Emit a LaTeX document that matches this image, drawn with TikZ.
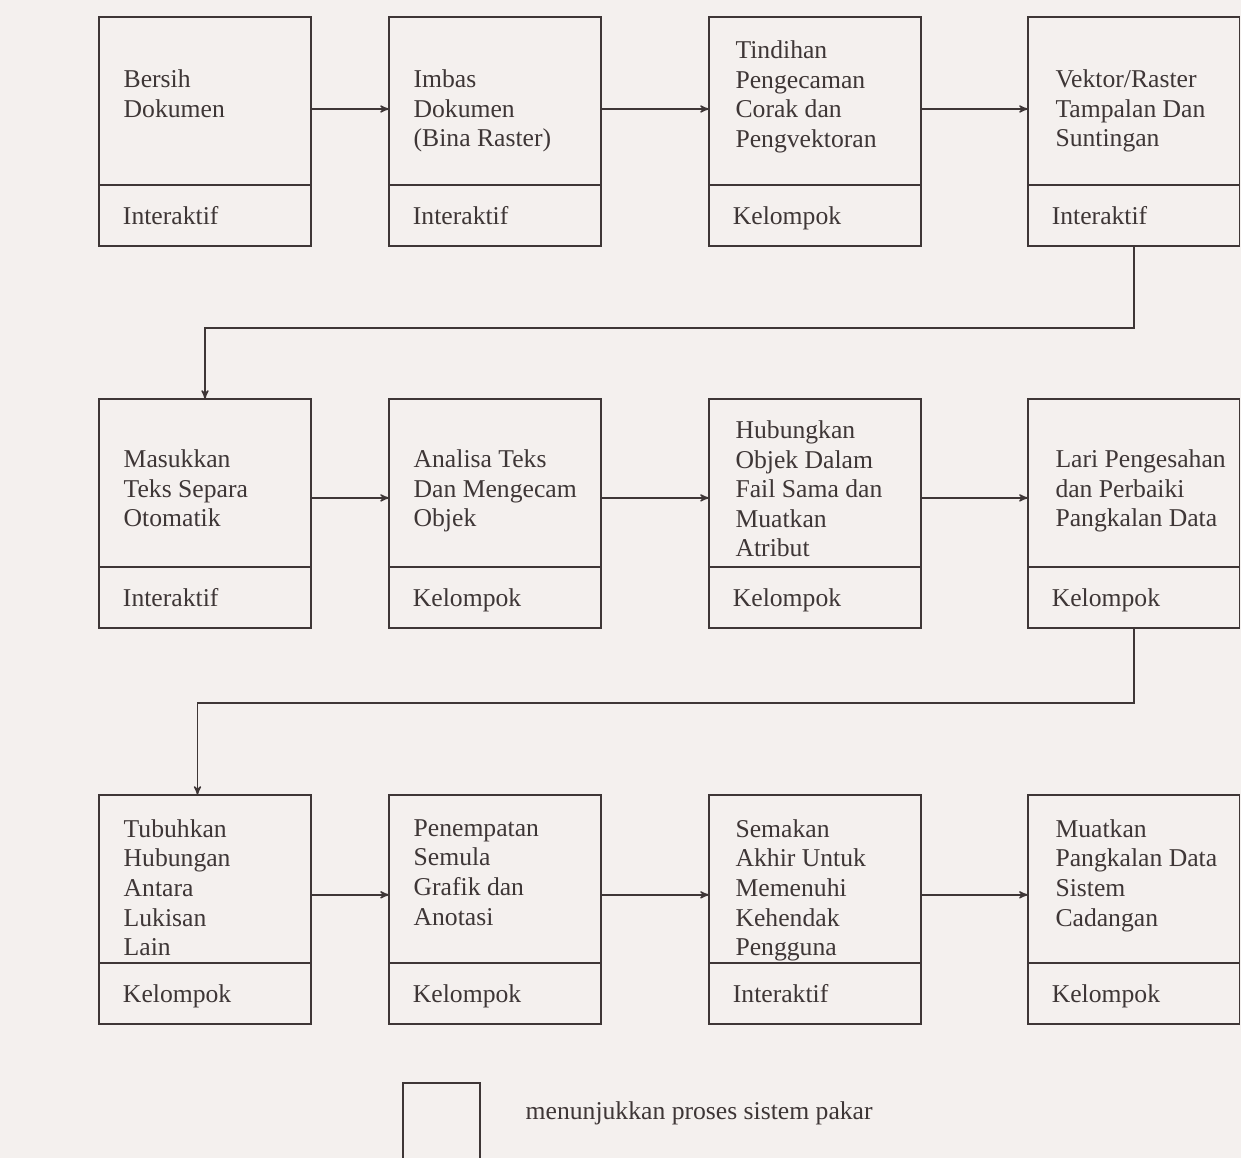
\documentclass[tikz,border=0pt]{standalone}
\usepackage{fontspec}
\setmainfont{Liberation Serif}
\usetikzlibrary{arrows}
\usetikzlibrary{positioning}
\usetikzlibrary{calc}

\definecolor{ink}{HTML}{3E3636}
\definecolor{paper}{HTML}{F4F0EE}

\begin{document}
\begin{tikzpicture}[->,>=stealth',thick,x=0.02cm,y=-0.02cm,ink,
    every node/.style={font=\fontsize{14.6}{16.85}\selectfont,text=ink},
    proc box/.style={draw,rectangle,outer sep=0pt,minimum width=4.24cm,minimum height=3.36cm},
    mode box/.style={draw,rectangle,outer sep=0pt,minimum width=4.24cm,minimum height=1.22cm,
        inner xsep=0.48cm,text width=3.28cm,align=left,text height=10.5pt,text depth=0pt},
    proc text/.style={anchor=north west,align=left,inner sep=0pt}
    ]

    \fill[paper,-] (0,0) rectangle (1241,1158);
    \clip (0,0) rectangle (1241,1158);

    % baris 1
    \node[proc box,anchor=north west](1) at (99,17){};
    \node[mode box](1k)[below=0pt of 1]{Interaktif};
    \node[proc box](2)[right=1.56cm of 1]{};
    \node[mode box](2k)[below=0pt of 2]{Interaktif};
    \node[proc box](3)[right=2.16cm of 2]{};
    \node[mode box](3k)[below=0pt of 3]{Kelompok};
    \node[proc box](4)[right=2.14cm of 3]{};
    \node[mode box](4k)[below=0pt of 4]{Interaktif};

    % baris 2
    \node[proc box](5)[below=3.06cm of 1k]{};
    \node[mode box](5k)[below=0pt of 5]{Interaktif};
    \node[proc box](6)[right=1.56cm of 5]{};
    \node[mode box](6k)[below=0pt of 6]{Kelompok};
    \node[proc box](7)[right=2.16cm of 6]{};
    \node[mode box](7k)[below=0pt of 7]{Kelompok};
    \node[proc box](8)[right=2.14cm of 7]{};
    \node[mode box](8k)[below=0pt of 8]{Kelompok};

    % baris 3
    \node[proc box](9)[below=3.34cm of 5k]{};
    \node[mode box](9k)[below=0pt of 9]{Kelompok};
    \node[proc box](10)[right=1.56cm of 9]{};
    \node[mode box](10k)[below=0pt of 10]{Kelompok};
    \node[proc box](11)[right=2.16cm of 10]{};
    \node[mode box](11k)[below=0pt of 11]{Interaktif};
    \node[proc box](12)[right=2.14cm of 11]{};
    \node[mode box](12k)[below=0pt of 12]{Kelompok};

    % teks dalam kotak
    \node[proc text](t1) at ($(1.north west)+(24,52)$){Bersih\\Dokumen};
    \node[proc text](t2) at ($(2.north west)+(24,52)$){Imbas\\Dokumen\\(Bina Raster)};
    \node[proc text](t3) at ($(3.north west)+(26,23)$){Tindihan\\Pengecaman\\Corak dan\\Pengvektoran};
    \node[proc text](t4) at ($(4.north west)+(27,52)$){Vektor/Raster\\Tampalan Dan\\Suntingan};
    \node[proc text](t5) at ($(5.north west)+(24,50)$){Masukkan\\Teks Separa\\Otomatik};
    \node[proc text](t6) at ($(6.north west)+(24,50)$){Analisa Teks\\Dan Mengecam\\Objek};
    \node[proc text](t7) at ($(7.north west)+(26,21)$){Hubungkan\\Objek Dalam\\Fail Sama dan\\Muatkan\\Atribut};
    \node[proc text](t8) at ($(8.north west)+(27,50)$){Lari Pengesahan\\dan Perbaiki\\Pangkalan Data};
    \node[proc text](t9) at ($(9.north west)+(24,24)$){Tubuhkan\\Hubungan\\Antara\\Lukisan\\Lain};
    \node[proc text](t10) at ($(10.north west)+(24,24)$){Penempatan\\Semula\\Grafik dan\\Anotasi};
    \node[proc text](t11) at ($(11.north west)+(26,24)$){Semakan\\Akhir Untuk\\Memenuhi\\Kehendak\\Pengguna};
    \node[proc text](t12) at ($(12.north west)+(27,24)$){Muatkan\\Pangkalan Data\\Sistem\\Cadangan};

    % anak panah
    \path
    ([yshift=-0.16cm]1.east) edge ([yshift=-0.16cm]2.west)
    ([yshift=-0.16cm]2.east) edge ([yshift=-0.16cm]3.west)
    ([yshift=-0.16cm]3.east) edge ([yshift=-0.16cm]4.west)
    ([yshift=-0.3cm]5.east) edge ([yshift=-0.3cm]6.west)
    ([yshift=-0.3cm]6.east) edge ([yshift=-0.3cm]7.west)
    ([yshift=-0.3cm]7.east) edge ([yshift=-0.3cm]8.west)
    ([yshift=-0.32cm]9.east) edge ([yshift=-0.32cm]10.west)
    ([yshift=-0.32cm]10.east) edge ([yshift=-0.32cm]11.west)
    ([yshift=-0.32cm]11.east) edge ([yshift=-0.32cm]12.west);

    \draw (4k.south) -- ++(0,82) -| (5.north);
    \draw (8k.south) -- ++(0,75) -| ([xshift=-0.15cm]9.north);

    % petunjuk
    \node[draw,rectangle,outer sep=0pt,minimum width=1.54cm,minimum height=2cm,anchor=north west](legend) at (403,1083){};
    \node[proc text,anchor=base west](legend text) at ($(legend.north east)+(45,36)$){menunjukkan proses sistem pakar};
  \end{tikzpicture}
\end{document}
